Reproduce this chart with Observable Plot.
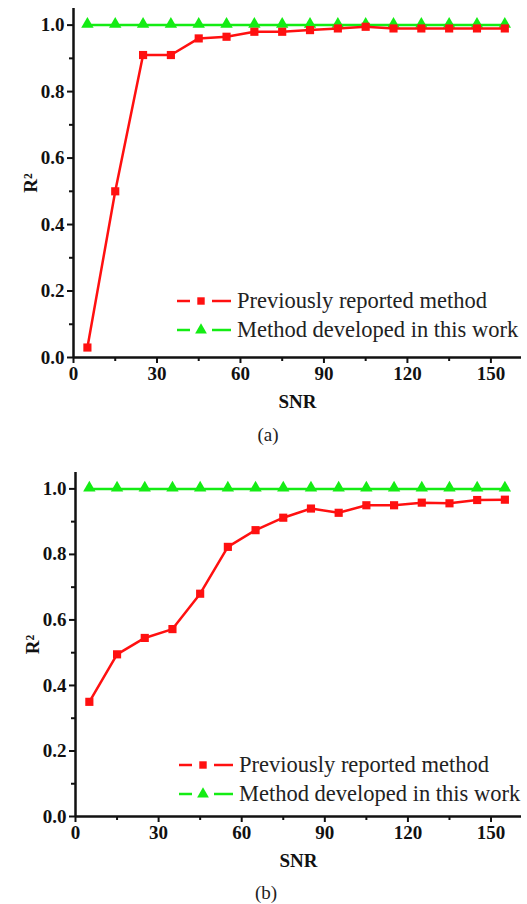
<!DOCTYPE html>
<html><head><meta charset="utf-8">
<script src="https://cdn.jsdelivr.net/npm/d3@7"></script>
<script src="https://cdn.jsdelivr.net/npm/@observablehq/plot@0.6"></script>
</head>
<body style="margin:0;background:#fff;">
<div id="wrap" style="position:relative;width:527px;height:904px;overflow:hidden;"></div>
<script>
const snr = [5,15,25,35,45,55,65,75,85,95,105,115,125,135,145,155];
const prevA = [0.03,0.50,0.91,0.91,0.96,0.965,0.98,0.98,0.985,0.99,0.995,0.99,0.99,0.99,0.99,0.99];
const oursA = [1,1,1,1,1,1,1,1,1,1,1,1,1,1,1,1];
const prevB = [0.35,0.495,0.545,0.572,0.68,0.823,0.874,0.912,0.94,0.927,0.95,0.95,0.958,0.956,0.966,0.967];
const oursB = [1,1,1,1,1,1,1,1,1,1,1,1,1,1,1,1];
const xMajor = [0,30,60,90,120,150];
const xMinor = [15,45,75,105,135];
const yMajor = [0,0.2,0.4,0.6,0.8,1.0];
const yMinor = [0.1,0.3,0.5,0.7,0.9];
const seriesNames = ["Previously reported method","Method developed in this work"];
const colors = ["#ff1010","#14ec14"];
const SERIF = "'Liberation Serif'";

function panel(prev, ours, mTop, mBottom, mLeft, height){
  const rowsP = snr.map((s,i)=>({x:s,y:prev[i]}));
  const rowsO = snr.map((s,i)=>({x:s,y:ours[i]}));
  const svg = Plot.plot({
    width:527, height, marginTop:mTop, marginBottom:mBottom, marginLeft:mLeft, marginRight:6,
    style:{fontFamily:SERIF,fontSize:"18.5px",fontWeight:"bold",color:"#111",background:"transparent"},
    x:{domain:[0,161]},
    y:{domain:[0,1.05]},
    marks:[
      Plot.axisX(xMajor,{tickSize:6,strokeWidth:2,tickPadding:3,label:"SNR",labelAnchor:"center",labelArrow:"none",labelOffset:50,fontSize:19,fontWeight:"bold"}),
      Plot.axisX(xMinor,{tickSize:4,strokeWidth:2,text:null,label:null}),
      Plot.axisY(yMajor,{tickSize:6,strokeWidth:2,tickPadding:3,tickFormat:d3.format(".1f"),label:"R²",labelAnchor:"center",labelArrow:"none",labelOffset:50,fontSize:19,fontWeight:"bold"}),
      Plot.axisY(yMinor,{tickSize:4,strokeWidth:2,text:null,label:null}),
      Plot.ruleX([0],{strokeWidth:2.5,stroke:"#111"}),
      Plot.ruleY([0],{strokeWidth:2.5,stroke:"#111"}),
      Plot.line(rowsO,{x:"x",y:"y",stroke:colors[1],strokeWidth:2.5}),
      Plot.dot(rowsO,{x:"x",y:"y",symbol:"triangle",fill:colors[1],r:4.6,dy:-1}),
      Plot.line(rowsP,{x:"x",y:"y",stroke:colors[0],strokeWidth:2.5}),
      Plot.dot(rowsP,{x:"x",y:"y",symbol:"square",fill:colors[0],r:4.6})
    ]
  });
  svg.setAttribute("font-family", "Liberation Serif");
  svg.querySelectorAll("text").forEach(t => { t.style.fontFamily = SERIF; });
  return svg;
}

const wrap = document.getElementById("wrap");
function place(el, top){ const d=document.createElement("div"); d.style.position="absolute"; d.style.left="0px"; d.style.top=top+"px"; d.appendChild(el); wrap.appendChild(d); }
place(panel(prevA, oursA, 8, 61, 73, 418), 0);
place(panel(prevB, oursB, 17, 57, 75, 418), 455);

function cap(text,x,y){
  const d=document.createElement("div");
  Object.assign(d.style,{position:"absolute",fontFamily:SERIF,fontSize:"19px",color:"#222",transform:"translate(-50%,-50%)",left:x+"px",top:y+"px"});
  d.textContent=text; wrap.appendChild(d);
}
cap("(a)",268,435);
cap("(b)",266,893);

function legendRow(i, left, cy){
  const d=document.createElement("div");
  Object.assign(d.style,{position:"absolute",fontFamily:SERIF,fontSize:"22.5px",color:"#222",whiteSpace:"nowrap",display:"flex",alignItems:"center",left:left+"px",top:(cy-14)+"px",height:"28px"});
  const svg=d3.create("svg").attr("width",56).attr("height",14).style("margin-right","5px");
  svg.append("line").attr("x1",1).attr("x2",14).attr("y1",7).attr("y2",7).attr("stroke",colors[i]).attr("stroke-width",2.5);
  svg.append("line").attr("x1",36).attr("x2",55).attr("y1",7).attr("y2",7).attr("stroke",colors[i]).attr("stroke-width",2.5);
  const sym = i===0 ? d3.symbolSquare : d3.symbolTriangle;
  svg.append("path").attr("d",d3.symbol(sym, i===0?55:60)()).attr("transform","translate(25,7)").attr("fill",colors[i]);
  d.appendChild(svg.node());
  const t=document.createElement("span"); t.textContent=seriesNames[i]; t.style.fontFamily=SERIF; d.appendChild(t);
  wrap.appendChild(d);
}
legendRow(0,176,301);
legendRow(1,176,330);
legendRow(0,178,765);
legendRow(1,178,794);
</script></body></html>
